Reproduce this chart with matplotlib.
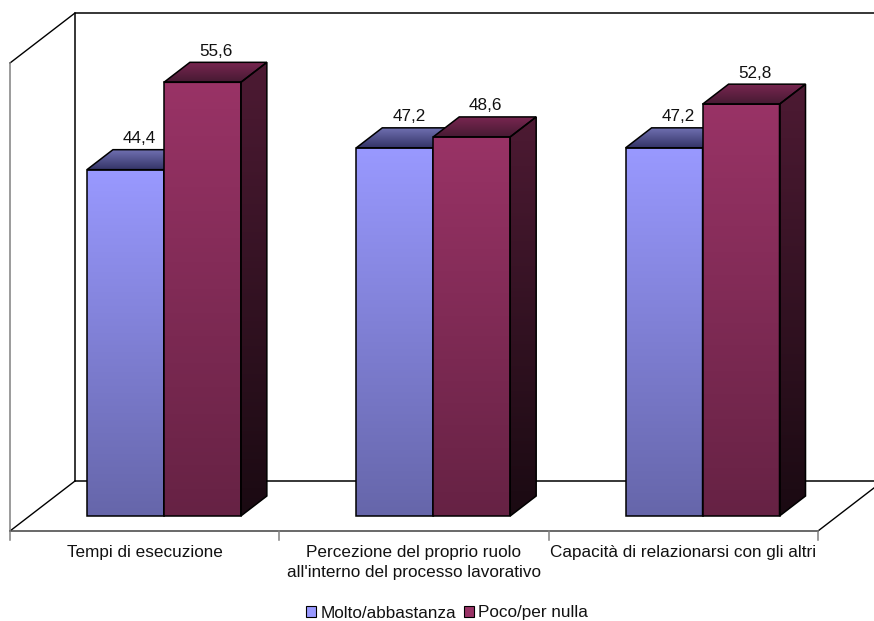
# 3D-look clustered bars drawn by hand on a flat axes
import numpy as np
from matplotlib import pyplot as plt
from matplotlib.colors import LinearSegmentedColormap
from matplotlib.patches import Polygon, Patch

plt.rcParams['font.family'] = ['Liberation Sans', 'DejaVu Sans']

categories = ['Tempi di esecuzione',
              'Percezione del proprio ruolo\nall\'interno del processo lavorativo',
              'Capacità di relazionarsi con gli altri']
series_names = ['Molto/abbastanza', 'Poco/per nulla']
molto = [44.4, 47.2, 47.2]
poco = [55.6, 48.6, 52.8]
tick_positions = [0, 1, 2, 3]
y_max = 60

W, H = 874, 621
fig = plt.figure(figsize=(W / 100, H / 100), dpi=100)
ax = fig.add_axes([0, 0, 1, 1])

# scale of the axes: one category and one percent point, in pixels
px_cat = 269.33
px_val = 7.8
x0_px = 10
y0_px = 516
xlim = (-x0_px / px_cat, (W - x0_px) / px_cat)
ylim = (-(H - y0_px) / px_val, y0_px / px_val)

# depth of the box and of a single bar
box_dx, box_dy = 65 / px_cat, 50 / px_val
bar_dx, bar_dy = 26 / px_cat, 20 / px_val
floor_y = -15 / px_val
bar_w = 2 / 7
gap = 2 / 7
font_size = 12.3


def ramp(c_start, c_end):
    return LinearSegmentedColormap.from_list('r', [c_start, c_end])


def shaded(points, c_bottom, c_top, zorder):
    # polygon with a vertical gradient and a black outline
    points = np.array(points)
    xs, ys = points[:, 0], points[:, 1]
    grad = np.linspace(1, 0, 128).reshape(-1, 1)
    im = ax.imshow(grad, cmap=ramp(c_bottom, c_top), aspect='auto', vmin=0, vmax=1,
                   extent=(xs.min(), xs.max(), ys.min(), ys.max()), origin='upper',
                   zorder=zorder)
    edge = Polygon(points, closed=True, fc='none', ec='black', lw=1.1, zorder=zorder + 0.1,
                   joinstyle='miter')
    ax.add_patch(edge)
    im.set_clip_path(edge)


def bar3d(x, val, front, side, top, zorder):
    shaded([(x, 0), (x + bar_w, 0), (x + bar_w, val), (x, val)], front[0], front[1], zorder)
    shaded([(x + bar_w, 0), (x + bar_w + bar_dx, bar_dy), (x + bar_w + bar_dx, val + bar_dy),
            (x + bar_w, val)], side[0], side[1], zorder)
    shaded([(x, val), (x + bar_w, val), (x + bar_w + bar_dx, val + bar_dy),
            (x + bar_dx, val + bar_dy)], top[0], top[1], zorder)
    ax.text(x + (bar_w + bar_dx) / 2 + 1 / px_cat, val + bar_dy + 3.5 / px_val, str(val).replace('.', ','),
            ha='center', va='bottom', fontsize=font_size, color='#111111', zorder=20)


# walls and floor
back_y = floor_y + box_dy
ax.plot([box_dx, box_dx, xlim[1] + 1], [back_y, back_y + y_max, back_y + y_max],
        color='black', lw=1.1, zorder=1, solid_joinstyle='miter')
ax.plot([box_dx, xlim[1] + 1], [back_y, back_y], color='black', lw=1.1, zorder=1)
ax.plot([0, box_dx], [floor_y + y_max, back_y + y_max], color='black', lw=1, zorder=1)
ax.plot([0, box_dx], [floor_y, back_y], color='black', lw=1, zorder=1)
ax.plot([3, 3 + box_dx], [floor_y, back_y], color='black', lw=1, zorder=1)
ax.plot([0, 0], [floor_y, floor_y + y_max], color='#808080', lw=1.1, zorder=1)
ax.plot([0, 3], [floor_y, floor_y], color='#404040', lw=1.1, zorder=1)
for t in tick_positions:
    ax.plot([t, t], [floor_y, floor_y - 9 / px_val], color='#808080', lw=1.1, zorder=1)

# bars
for i in range(3):
    x = i + gap
    bar3d(x, molto[i], ('#6666AA', '#9999FF'), ('#1f1f33', '#4d4d80'), ('#333366', '#6f6fb0'), 5)
    bar3d(x + bar_w, poco[i], ('#662244', '#993366'), ('#1a0a12', '#4d1a33'), ('#471a33', '#782650'), 6)

# category labels
for i, name in enumerate(categories):
    ax.text(i + 0.5, floor_y - 14.5 / px_val, name, ha='center', va='top', fontsize=font_size,
            color='#111111', linespacing=1.4)

handles = [Patch(fc='#9999FF', ec='black', lw=0.8, label=series_names[0]),
           Patch(fc='#993366', ec='black', lw=0.8, label=series_names[1])]
fig.legend(handles=handles, loc='center', bbox_to_anchor=(447 / W, 1 - 613 / H), ncol=2,
           frameon=False, fontsize=font_size, handlelength=0.6, handleheight=0.6, handletextpad=0.25,
           columnspacing=0.45, labelcolor='#111111', borderpad=0, borderaxespad=0)

ax.set_xlim(xlim)
ax.set_ylim(ylim)
ax.axis('off')
fig.savefig('out.png', dpi=100)
